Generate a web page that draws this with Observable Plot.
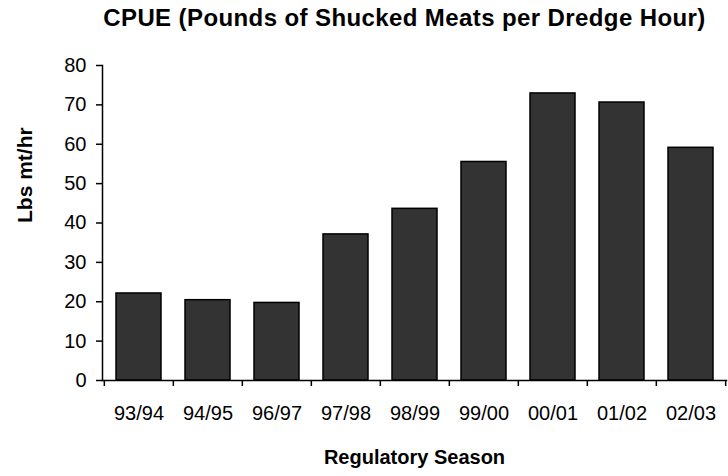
<!DOCTYPE html>
<html>
<head>
<meta charset="utf-8">
<script src="https://cdn.jsdelivr.net/npm/d3@7"></script>
<script src="https://cdn.jsdelivr.net/npm/@observablehq/plot@0.6"></script>
<style>
  body { margin: 0; background: #fff; font-family: "Liberation Sans", Arial, sans-serif; }
  #title {
    box-sizing: border-box; width: 728px; height: 48px;
    padding: 3px 0 0 81px; line-height: 30px;
    text-align: center; font-weight: bold; font-size: 24px; color: #000; white-space: nowrap;
    letter-spacing: 0.4px;
  }
</style>
</head>
<body>
<div id="title">CPUE (Pounds of Shucked Meats per Dredge Hour)</div>
<div id="chart"></div>
<script>
// Regulatory seasons and catch per unit effort (lbs of shucked meats per dredge hour)
const seasons = ["93/94", "94/95", "96/97", "97/98", "98/99", "99/00", "00/01", "01/02", "02/03"];
const cpue = [22.1, 20.4, 19.7, 37.1, 43.6, 55.5, 72.9, 70.6, 59.1];
const yTicks = [0, 10, 20, 30, 40, 50, 60, 70, 80];

const data = seasons.map((season, i) => ({season, cpue: cpue[i]}));

const width = 728, height = 428;
const marginLeft = 102, marginRight = 2, marginTop = 17, marginBottom = 96;
const bandWidth = (width - marginLeft - marginRight) / seasons.length;

const chart = Plot.plot({
  width, height, marginLeft, marginRight, marginTop, marginBottom,
  style: {fontFamily: "'Liberation Sans', Arial, sans-serif", fontSize: "20px", color: "#000", background: "#fff"},
  x: {domain: seasons, padding: 0, label: null},
  y: {domain: [0, 80], label: null},
  marks: [
    Plot.barY(data, {x: "season", y: "cpue", fill: "#333333", stroke: "#000", strokeWidth: 1.5, insetLeft: 12, insetRight: 12}),
    Plot.frame({anchor: "left", stroke: "#000", strokeWidth: 1.5}),
    Plot.frame({anchor: "bottom", stroke: "#000", strokeWidth: 1.5}),
    Plot.axisY({ticks: yTicks, tickSize: 6, tickPadding: 10, strokeWidth: 1.5, fontSize: 20, label: null}),
    // season labels centred under each bar
    Plot.axisX({tickSize: 0, tickPadding: 25, fontSize: 20, label: null}),
    // boundary ticks between seasons
    Plot.axisX({tickSize: 6, text: null, dx: -bandWidth / 2, strokeWidth: 1.5, label: null}),
    Plot.axisX({ticks: seasons.slice(-1), tickSize: 6, text: null, dx: bandWidth / 2, strokeWidth: 1.5, label: null}),
    Plot.text(["Regulatory Season"], {frameAnchor: "bottom", dy: 83, fontWeight: "bold", fontSize: 20}),
    Plot.text(["Lbs mt/hr"], {frameAnchor: "left", dx: -77, rotate: -90, fontWeight: "bold", fontSize: 21})
  ]
});
document.getElementById("chart").appendChild(chart);
</script>
</body>
</html>
